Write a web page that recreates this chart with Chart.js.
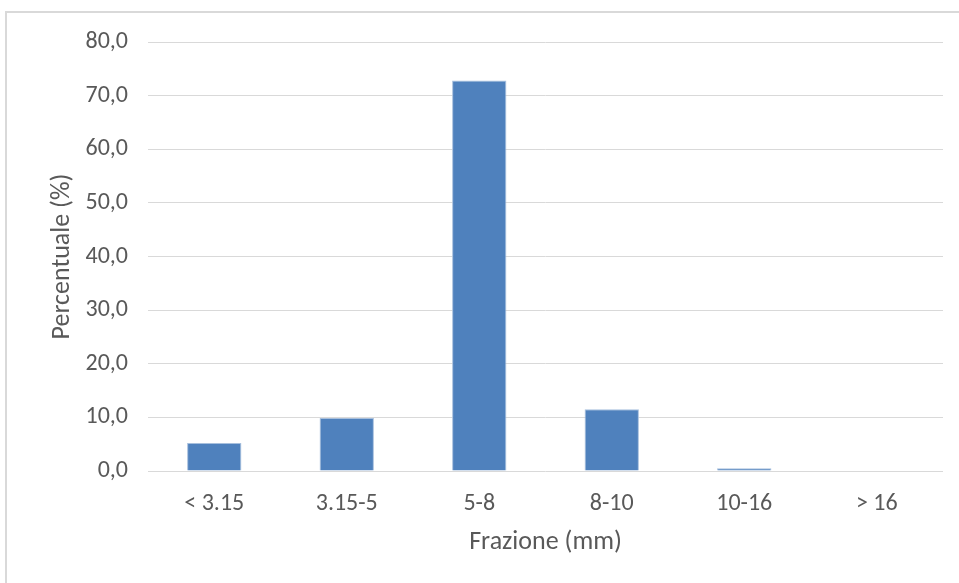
<!DOCTYPE html>
<html>
<head>
<meta charset="utf-8">
<script src="https://cdn.jsdelivr.net/npm/chart.js@4/dist/chart.umd.min.js"></script>
<style>
    html, body { margin: 0; padding: 0; background: #fff; overflow: hidden; }
    #wrap { position: relative; width: 959px; height: 583px; }
    #frame { position: absolute; left: 5px; top: 11px; width: 1000px; height: 1000px;
             border: 2px solid #d9d9d9; box-sizing: border-box; }
    #grafico { position: absolute; left: 0; top: 0; }
</style>
</head>
<body>
<div id="wrap">
    <div id="frame"></div>
    <canvas id="grafico" width="959" height="583"></canvas>
</div>
<script>
var frazioni = ["< 3.15", "3.15-5", "5-8", "8-10", "10-16", "> 16"];
var percentuali = [5.2, 9.9, 72.8, 11.5, 0.5, 0.0];
var yTicks = [0, 10, 20, 30, 40, 50, 60, 70, 80];

var fontFam = 'Carlito, "Liberation Sans Narrow", "DejaVu Sans Condensed", sans-serif';
var grigio = '#595959';

/* grafico a barre della distribuzione granulometrica */
var ctx = document.getElementById("grafico");
var granChart = new Chart(ctx, {
    type: 'bar',
    data: {
        labels: frazioni,
        datasets: [{
            label: 'Percentuale',
            data: percentuali,
            backgroundColor: '#4f81bd',
            borderColor: '#a7bfdd',
            borderWidth: 1,
            barPercentage: 0.41,
            categoryPercentage: 1.0
        }]
    },
    options: {
        responsive: false,
        animation: false,
        layout: { padding: { left: 0, right: 16, top: 42, bottom: 25 } },
        plugins: {
            legend: { display: false },
            tooltip: { enabled: false }
        },
        scales: {
            x: {
                grid: { display: false, drawTicks: false },
                border: { display: false },
                ticks: { color: grigio, padding: 19, font: { family: fontFam, size: 24 } },
                title: {
                    display: true,
                    text: 'Frazione (mm)',
                    color: grigio,
                    padding: { top: -11, bottom: 0 },
                    font: { family: fontFam, size: 26 }
                }
            },
            y: {
                min: 0,
                max: 80,
                afterBuildTicks: function (scale) {
                    scale.ticks = yTicks.map(function (v) { return { value: v }; });
                },
                afterFit: function (scale) { scale.width = 148; },
                grid: { color: '#d9d9d9', lineWidth: 1, drawTicks: false },
                border: { display: false },
                ticks: {
                    color: grigio,
                    padding: 20,
                    font: { family: fontFam, size: 24 },
                    callback: function (v) { return v.toFixed(1).replace('.', ','); }
                },
                title: {
                    display: true,
                    text: 'Percentuale (%)',
                    color: grigio,
                    padding: { top: 47, bottom: 0 },
                    font: { family: fontFam, size: 26 }
                }
            }
        }
    }
});
</script>
</body>
</html>
